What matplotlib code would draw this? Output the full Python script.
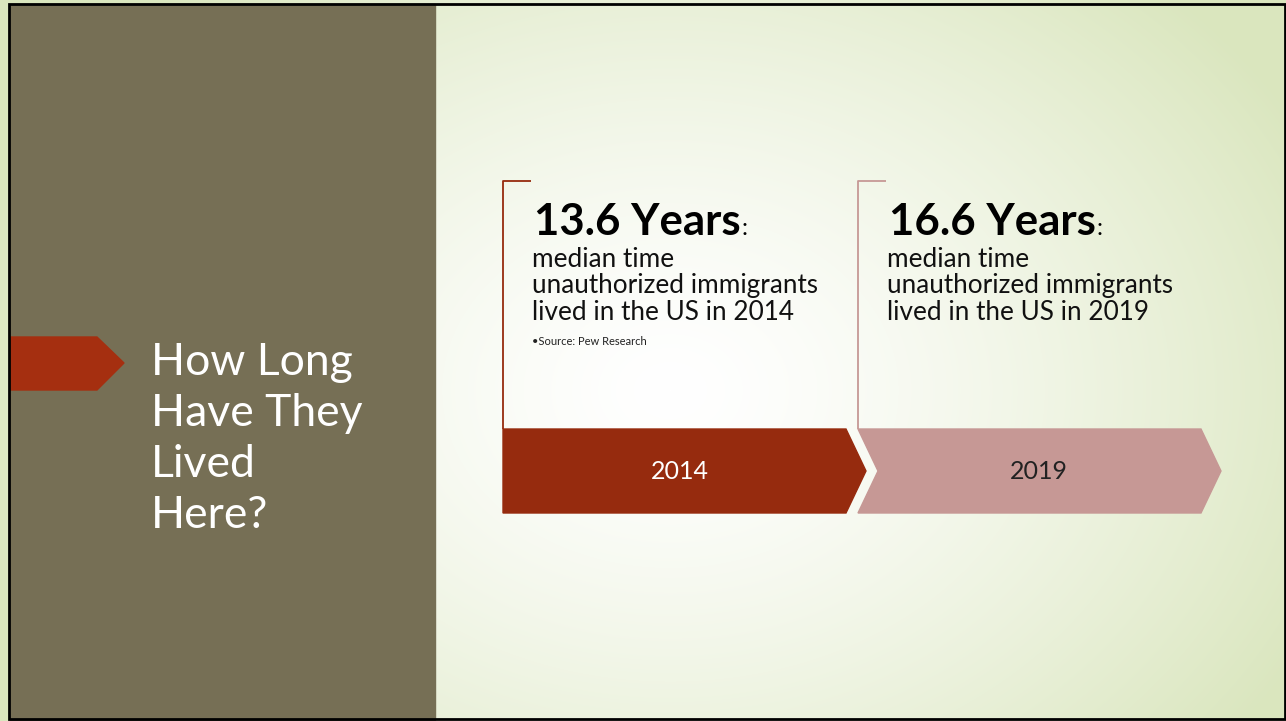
import numpy as np
import matplotlib.pyplot as plt
from matplotlib.patches import Polygon, Rectangle

# slide content
title_lines = ["How Long", "Have They", "Lived", "Here?"]
years = ["2014", "2019"]
median_years = [13.6, 16.6]
descriptions = [["median time", "unauthorized immigrants", "lived in the US in 2014"],
                ["median time", "unauthorized immigrants", "lived in the US in 2019"]]
source_note = "•Source: Pew Research"
step_colors = ["#962B0E", "#C69895"]
step_text_colors = ["white", "#222222"]
bracket_colors = ["#962B0E", "#C69895"]

plt.rcParams['font.family'] = ['Lato', 'DejaVu Sans']

W, H = 1286, 721
fig = plt.figure(figsize=(W / 100, H / 100), dpi=100)
ax = fig.add_axes([0, 0, 1, 1])
ax.set_xlim(0, W)
ax.set_ylim(H, 0)
ax.axis("off")

# background: soft radial gradient, white centre to pale green
yy, xx = np.mgrid[0:H, 0:W]
r = np.sqrt(((xx - 670) / 720.0) ** 2 + ((yy - 390) / 560.0) ** 2)
t = np.clip(r, 0, 1) ** 1.4
c0 = np.array([1.0, 1.0, 1.0])
c1 = np.array([0xDA, 0xE6, 0xBE]) / 255
img = c0[None, None, :] * (1 - t[..., None]) + c1[None, None, :] * t[..., None]
ax.imshow(img, extent=[0, W, H, 0], zorder=0)

# olive side panel
ax.add_patch(Rectangle((10, 4), 425, 716, color="#766F55", zorder=1))
# red pointer
ax.add_patch(Polygon([(10, 337), (97, 337), (124, 363), (97, 390), (10, 390)],
                     closed=True, color="#A52F10", zorder=2))
for k, line in enumerate(title_lines):
    ax.text(151, 375 + 51 * k, line, color="white", fontsize=32,
            va="baseline", ha="left", zorder=3)

# outer frame
ax.add_patch(Rectangle((9, 4), 1276, 715, fill=False, edgecolor="black",
                       linewidth=2, zorder=5))

# timeline steps
x_starts = [503, 858]
step_w = 343
tip = 20
top, bot = 429, 513
mid = (top + bot) / 2
for i, (yr, val) in enumerate(zip(years, median_years)):
    x0 = x_starts[i]
    pts = [(x0, top), (x0 + step_w, top), (x0 + step_w + tip, mid),
           (x0 + step_w, bot), (x0, bot)]
    if i > 0:
        pts.append((x0 + tip, mid))
    ax.add_patch(Polygon(pts, closed=True, color=step_colors[i], zorder=2))
    ax.text(x0 + step_w / 2 + 5 + 4 * i, mid + 8, yr,
            color=step_text_colors[i], fontsize=18, ha="center", va="baseline", zorder=3)

    # bracket line
    ax.plot([x0 + 28, x0, x0], [181, 181, top], color=bracket_colors[i],
            linewidth=1.3, solid_capstyle="butt", zorder=2)

    # headline + description
    tx = x0 + 31
    h = ax.text(tx, 235, f"{val} Years", fontsize=31.5, fontweight="bold",
                color="black", va="baseline", ha="left", zorder=3)
    fig.canvas.draw()
    bb = h.get_window_extent()
    ax.text(tx + bb.width + 1, 235, ":", fontsize=17, color="black",
            va="baseline", ha="left", zorder=3)
    for k, line in enumerate(descriptions[i]):
        ax.text(tx - 2, 267 + 26.5 * k, line, fontsize=18.8, color="#111111",
                va="baseline", ha="left", zorder=3)
    if i == 0:
        ax.text(tx - 2, 345, source_note, fontsize=8, color="#222222",
                va="baseline", ha="left", zorder=3)

fig.savefig("out.png", dpi=100)
